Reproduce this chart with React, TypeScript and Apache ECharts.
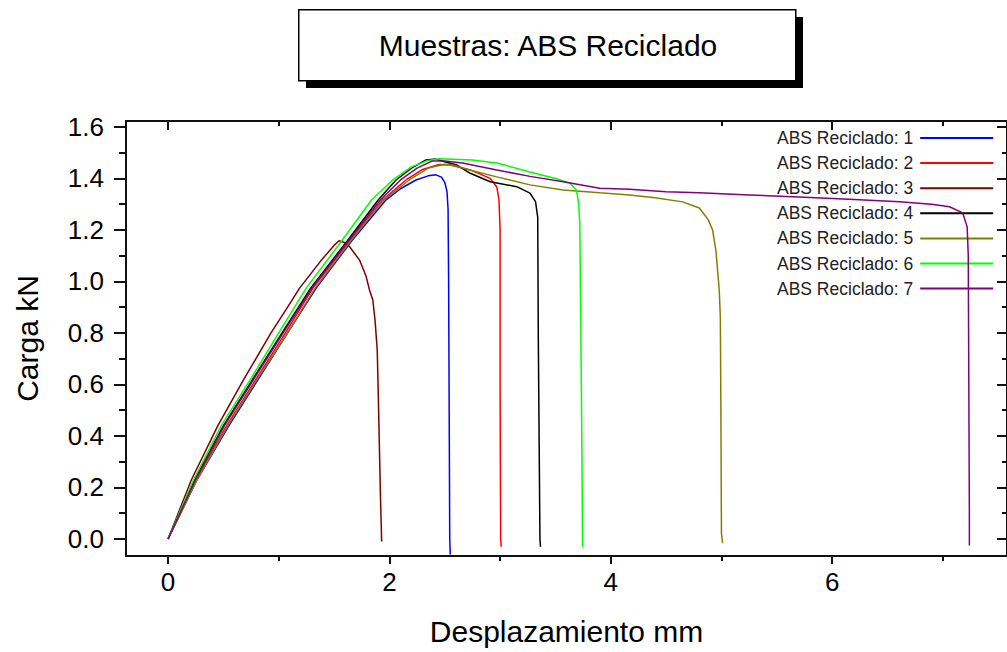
import React, { useEffect, useRef } from "react";
import * as echarts from "echarts";

const seriesNames = [
  "ABS Reciclado: 1",
  "ABS Reciclado: 2",
  "ABS Reciclado: 3",
  "ABS Reciclado: 4",
  "ABS Reciclado: 5",
  "ABS Reciclado: 6",
  "ABS Reciclado: 7",
];
const seriesColors = ["#0000ff", "#ff0000", "#800000", "#000000", "#808000", "#00ff00", "#800080"];

const s1: number[][] = [
  [0, 0], [0.26, 0.229], [0.55, 0.44], [0.81, 0.617], [1.08, 0.8], [1.34, 0.975], [1.66, 1.158],
  [1.97, 1.317], [2.1, 1.36], [2.24, 1.394], [2.35, 1.41], [2.42, 1.414], [2.47, 1.405], [2.5, 1.385],
  [2.52, 1.35], [2.53, 1.28], [2.535, 1.0], [2.54, 0.5], [2.545, 0.0], [2.55, -0.06],
];
const s2: number[][] = [
  [0, 0], [0.25, 0.229], [0.53, 0.44], [0.79, 0.617], [1.06, 0.8], [1.31, 0.975], [1.64, 1.158],
  [1.94, 1.317], [2.15, 1.394], [2.3, 1.435], [2.45, 1.454], [2.55, 1.452], [2.73, 1.433], [2.91, 1.4],
  [2.97, 1.367], [2.99, 1.317], [3.0, 1.2], [3.0, 0.6], [3.005, 0.0], [3.01, -0.03],
];
const s3: number[][] = [
  [0, 0], [0.21, 0.229], [0.45, 0.44], [0.68, 0.617], [0.93, 0.8], [1.08, 0.9], [1.19, 0.975], [1.38, 1.08],
  [1.5, 1.14], [1.545, 1.158], [1.6, 1.15], [1.64, 1.135], [1.73, 1.083], [1.79, 1.019], [1.82, 0.967],
  [1.85, 0.928], [1.87, 0.85], [1.89, 0.734], [1.9, 0.55], [1.91, 0.346], [1.92, 0.15], [1.93, -0.01],
];
const s4: number[][] = [
  [0, 0], [0.24, 0.229], [0.5, 0.44], [0.76, 0.617], [1.03, 0.8], [1.29, 0.975], [1.62, 1.158],
  [1.9, 1.317], [2.06, 1.394], [2.2, 1.44], [2.33, 1.472], [2.42, 1.475], [2.5, 1.465], [2.61, 1.452],
  [2.73, 1.42], [2.91, 1.387], [3.15, 1.368], [3.27, 1.343], [3.32, 1.31], [3.34, 1.25], [3.345, 0.8],
  [3.36, 0.0], [3.365, -0.03],
];
const s5: number[][] = [
  [0, 0], [0.26, 0.229], [0.54, 0.44], [0.8, 0.617], [1.08, 0.8], [1.33, 0.975], [1.65, 1.158],
  [1.95, 1.317], [2.18, 1.394], [2.35, 1.44], [2.5, 1.455], [2.57, 1.452], [2.75, 1.43], [2.97, 1.406],
  [3.27, 1.375], [3.57, 1.355], [3.9, 1.344], [4.17, 1.336], [4.4, 1.325], [4.65, 1.309], [4.8, 1.285],
  [4.88, 1.24], [4.92, 1.2], [4.95, 1.12], [4.98, 0.967], [4.99, 0.862], [4.995, 0.5], [5.0, 0.023],
  [5.01, -0.016],
];
const s6: number[][] = [
  [0, 0], [0.23, 0.229], [0.48, 0.44], [0.74, 0.617], [1.0, 0.8], [1.25, 0.975], [1.57, 1.158],
  [1.84, 1.317], [2.03, 1.394], [2.2, 1.445], [2.35, 1.47], [2.45, 1.476], [2.75, 1.472], [2.97, 1.46],
  [3.27, 1.425], [3.5, 1.4], [3.63, 1.382], [3.69, 1.355], [3.71, 1.3], [3.72, 1.227], [3.73, 0.8],
  [3.74, 0.3], [3.745, -0.03],
];
const s7: number[][] = [
  [0, 0], [0.245, 0.229], [0.51, 0.44], [0.77, 0.617], [1.04, 0.8], [1.3, 0.975], [1.63, 1.158],
  [1.92, 1.317], [2.1, 1.394], [2.25, 1.44], [2.39, 1.468], [2.5, 1.468], [2.66, 1.46], [2.97, 1.433],
  [3.27, 1.408], [3.57, 1.387], [3.9, 1.362], [4.17, 1.358], [4.5, 1.348], [4.8, 1.344], [5.25, 1.336],
  [5.7, 1.328], [6.2, 1.318], [6.61, 1.309], [6.9, 1.3], [7.06, 1.29], [7.18, 1.266], [7.22, 1.212],
  [7.23, 1.1], [7.235, 0.6], [7.24, 0.1], [7.24, -0.025],
];
const allSeries = [s1, s2, s3, s4, s5, s6, s7];

const xMajor = [0, 2, 4, 6];
const xMinor = [1, 3, 5, 7];
const yMajor = [0, 0.2, 0.4, 0.6, 0.8, 1.0, 1.2, 1.4, 1.6];
const yMinor = [0.1, 0.3, 0.5, 0.7, 0.9, 1.1, 1.3, 1.5];

const titleText = "Muestras: ABS Reciclado";
const xTitle = "Desplazamiento mm";
const yTitle = "Carga kN";

const FONT = "'Liberation Sans', Arial, sans-serif";

export default function App() {
  const ref = useRef<HTMLDivElement>(null);
  useEffect(() => {
    if (!ref.current) return;
    const chart = echarts.init(ref.current, null, { renderer: "svg" });
    const frame = { color: "#111", width: 2 };
    const X_MIN = -0.38, X_MAX = 7.58, Y_MIN = -0.066, Y_MAX = 1.623;
    const baseX = { type: "value", gridIndex: 0, min: X_MIN, max: X_MAX, splitLine: { show: false } };
    const baseY = { type: "value", gridIndex: 0, min: Y_MIN, max: Y_MAX, splitLine: { show: false } };
    const line = (show: boolean) => ({ show, onZero: false, lineStyle: frame });
    chart.setOption({
      animation: false,
      backgroundColor: "#fff",
      textStyle: { fontFamily: FONT },
      grid: { left: 126, top: 121, width: 882, height: 435, containLabel: false },
      xAxis: [
        {
          ...baseX,
          position: "bottom",
          axisLine: line(true),
          axisTick: { show: true, customValues: xMajor, length: 8, lineStyle: frame },
          axisLabel: { show: true, customValues: xMajor, fontSize: 26, margin: 13, color: "#000", fontFamily: FONT },
          name: xTitle,
          nameLocation: "middle",
          nameGap: 60,
          nameTextStyle: { fontSize: 30, color: "#000", fontFamily: FONT },
        },
        {
          ...baseX,
          position: "bottom",
          axisLine: line(false),
          axisTick: { show: true, customValues: xMinor, length: 5, lineStyle: frame },
          axisLabel: { show: false },
        },
        {
          ...baseX,
          position: "top",
          axisLine: line(true),
          axisTick: { show: true, inside: true, customValues: xMajor, length: 9, lineStyle: frame },
          axisLabel: { show: false },
        },
        {
          ...baseX,
          position: "top",
          axisLine: line(false),
          axisTick: { show: true, inside: true, customValues: xMinor, length: 5, lineStyle: frame },
          axisLabel: { show: false },
        },
      ],
      yAxis: [
        {
          ...baseY,
          position: "left",
          axisLine: line(true),
          axisTick: { show: true, customValues: yMajor, length: 12, lineStyle: frame },
          axisLabel: {
            show: true,
            customValues: yMajor,
            fontSize: 26,
            margin: 22,
            color: "#000",
            fontFamily: FONT,
            formatter: (v: number) => v.toFixed(1),
          },
          name: yTitle,
          nameLocation: "middle",
          nameGap: 84,
          nameRotate: 90,
          nameTextStyle: { fontSize: 30, color: "#000", fontFamily: FONT },
        },
        {
          ...baseY,
          position: "left",
          axisLine: line(false),
          axisTick: { show: true, customValues: yMinor, length: 7, lineStyle: frame },
          axisLabel: { show: false },
        },
        {
          ...baseY,
          position: "right",
          axisLine: line(true),
          axisTick: { show: true, inside: true, customValues: yMajor, length: 10, lineStyle: frame },
          axisLabel: { show: false },
        },
        {
          ...baseY,
          position: "right",
          axisLine: line(false),
          axisTick: { show: true, inside: true, customValues: yMinor, length: 5, lineStyle: frame },
          axisLabel: { show: false },
        },
      ],
      legend: {
        orient: "vertical",
        left: 772,
        top: 124,
        align: "right",
        icon: "rect",
        itemWidth: 73,
        itemHeight: 2,
        itemGap: 7.1,
        selectedMode: false,
        textStyle: { fontSize: 17.5, color: "#222", fontFamily: FONT, padding: [0, 2, 0, 0] },
        data: seriesNames,
      },
      series: allSeries.map((d, i) => ({
        name: seriesNames[i],
        type: "line",
        data: d,
        xAxisIndex: 0,
        yAxisIndex: 0,
        showSymbol: false,
        symbol: "none",
        smooth: false,
        color: seriesColors[i],
        lineStyle: { color: seriesColors[i], width: 1.5 },
        z: 2 + i,
      })),
      graphic: [
        { type: "rect", left: 306, top: 17, shape: { width: 497, height: 71 }, style: { fill: "#000" }, z: 10 },
        {
          type: "rect",
          left: 298,
          top: 9,
          shape: { width: 497, height: 71 },
          style: { fill: "#fff", stroke: "#000", lineWidth: 1.5 },
          z: 11,
        },
        {
          type: "text",
          x: 548,
          y: 45,
          style: {
            text: titleText,
            fontSize: 30,
            fontFamily: FONT,
            fill: "#000",
            align: "center",
            verticalAlign: "middle",
          },
          z: 12,
        },
      ],
    });
    return () => chart.dispose();
  }, []);
  return (
    <div
      ref={ref}
      style={{ position: "fixed", left: 0, top: 0, width: 1007, height: 652, background: "#fff" }}
    />
  );
}
